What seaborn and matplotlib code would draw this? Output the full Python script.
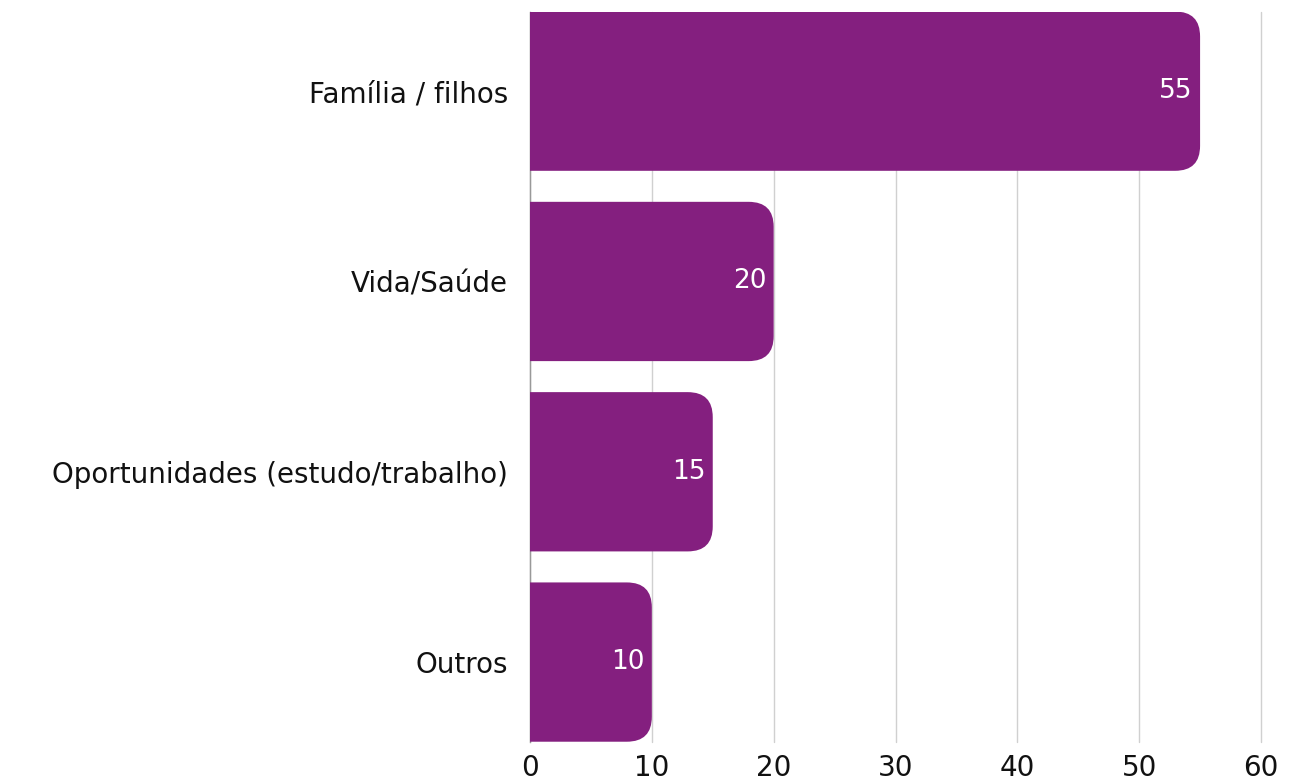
import matplotlib
matplotlib.use("Agg")
import matplotlib.pyplot as plt
import seaborn as sns
import pandas as pd
from matplotlib.patches import FancyBboxPatch

# data
categories = ["Família / filhos", "Vida/Saúde", "Oportunidades (estudo/trabalho)", "Outros"]
values = [55, 20, 15, 10]
x_ticks = [0, 10, 20, 30, 40, 50, 60]

bar_color = "#841F7F"

sns.set_theme(style="white")
plt.rcParams["font.family"] = ["DejaVu Sans"]

df = pd.DataFrame({"motivo": categories, "valor": values})

fig = plt.figure(figsize=(13.1, 7.8), dpi=100)
ax = fig.add_axes([530 / 1310, 1 - 742 / 780, 731 / 1310, 730 / 780])

sns.barplot(data=df, y="motivo", x="valor", color=bar_color, width=0.837,
            saturation=1, ax=ax, zorder=3)

ax.set_xlim(0, 60)
ax.set_ylim(3.42, -0.416)

# swap the plain bars for ones with rounded right corners
px_x = 731 / 60.0      # pixels per x unit
px_y = 190.3           # pixels per y unit
radius_px = 25
for p in list(ax.patches):
    x0, y0 = p.get_x(), p.get_y()
    w, h = p.get_width(), p.get_height()
    p.remove()
    rb = FancyBboxPatch((x0 - 5, y0), w + 5, h,
                        boxstyle=f"round,pad=0,rounding_size={radius_px / px_x}",
                        mutation_aspect=px_x / px_y,
                        facecolor=bar_color, edgecolor="none", zorder=3,
                        clip_on=True)
    ax.add_patch(rb)

for i, v in enumerate(values):
    ax.text(v - 0.6, i, str(v), color="white", ha="right", va="center",
            fontsize=19, zorder=4)

ax.set_xticks(x_ticks)
ax.set_xticklabels([str(t) for t in x_ticks])
ax.xaxis.grid(True, color="#d0d0d0", linewidth=1, zorder=0)
ax.yaxis.grid(False)
for gl in ax.get_xgridlines():
    gl.set_clip_on(False)
ax.tick_params(axis="both", length=0, labelsize=20, colors="#111111")
ax.tick_params(axis="y", pad=16)
ax.tick_params(axis="x", pad=9)
ax.set_xlabel("")
ax.set_ylabel("")

for s in ["top", "right", "bottom"]:
    ax.spines[s].set_visible(False)
ax.spines["left"].set_color("#999999")
ax.spines["left"].set_linewidth(1)

fig.savefig("out.png", dpi=100, facecolor="white")
